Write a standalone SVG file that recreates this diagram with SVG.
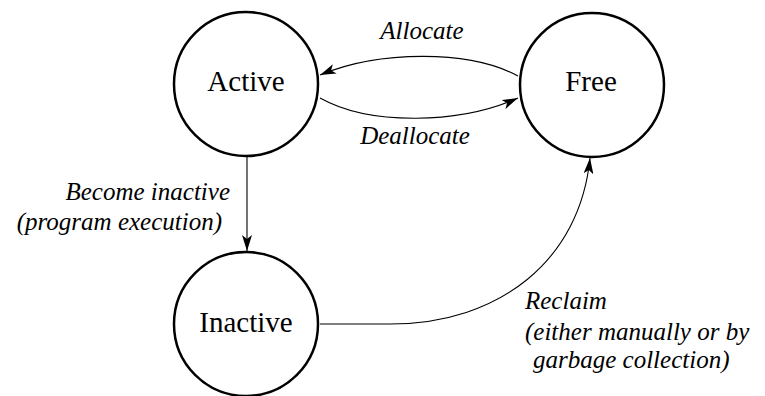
<svg xmlns="http://www.w3.org/2000/svg" width="765" height="396" viewBox="0 0 765 396">
<style>
.node{fill:#fff;stroke:#000;stroke-width:2.5}
.nt{font-family:'Liberation Serif','Times New Roman',serif;font-size:29px;text-anchor:middle;fill:#000}
.lbl{font-family:'Liberation Serif','Times New Roman',serif;font-style:italic;font-size:25px;fill:#000}
.edge{fill:none;stroke:#000;stroke-width:1.1}
</style>
<defs>
<marker id="ah" viewBox="0 0 16 10" refX="16" refY="5" markerWidth="16" markerHeight="10" markerUnits="userSpaceOnUse" orient="auto">
<path d="M0,0 L16,5 L0,10 L4,5 Z" fill="#000"/>
</marker>
</defs>
<rect width="765" height="396" fill="#fff"/>
<g id="connectors">
<path class="edge" d="M518,76 C470,50 380,50 320,75" marker-end="url(#ah)"/>
<path class="edge" d="M320,98 C370,126 460,124 518,98" marker-end="url(#ah)"/>
<path class="edge" d="M247,156 L247,251" marker-end="url(#ah)"/>
<path class="edge" d="M320,324 L390,324 C500,324 580,260 590,158" marker-end="url(#ah)"/>
</g>
<g id="node-active">
<circle class="node" cx="246" cy="84" r="72"/>
<text class="nt" x="246" y="91">Active</text>
</g>
<g id="node-free">
<circle class="node" cx="592" cy="85" r="72"/>
<text class="nt" x="591" y="91">Free</text>
</g>
<g id="node-inactive">
<circle class="node" cx="246" cy="324" r="72"/>
<text class="nt" x="246" y="332">Inactive</text>
</g>
<g id="labels">
<text class="lbl" x="422" y="39" text-anchor="middle">Allocate</text>
<text class="lbl" x="415" y="144" text-anchor="middle">Deallocate</text>
<text class="lbl" x="230" y="200" text-anchor="end">Become inactive</text>
<text class="lbl" x="222" y="230" text-anchor="end">(program execution)</text>
<text class="lbl" x="525" y="309">Reclaim</text>
<text class="lbl" x="525" y="340">(either manually or by</text>
<text class="lbl" x="533" y="368">garbage collection)</text>
</g>
</svg>
